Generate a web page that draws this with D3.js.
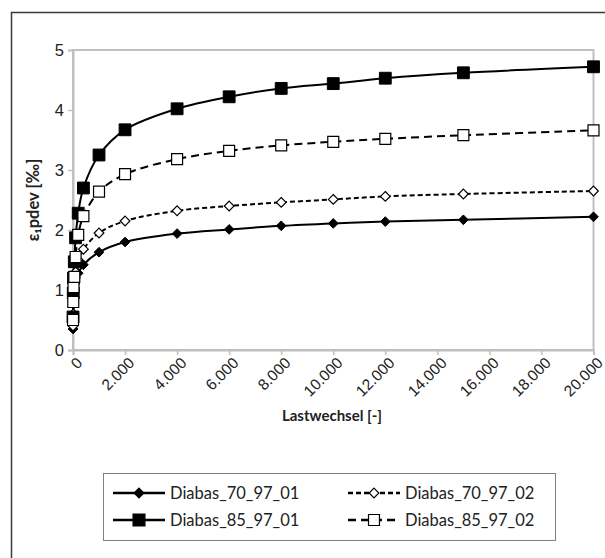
<!DOCTYPE html>
<html>
<head>
<meta charset="utf-8">
<script src="https://cdn.jsdelivr.net/npm/d3@7"></script>
<style>
  body { margin: 0; background: #fff; overflow: hidden; }
  svg { font-family: Lato, "Open Sans", sans-serif; display: block; }
</style>
</head>
<body>
<svg id="chart"></svg>
<script>
// load cycles
const cycles = [1, 10, 20, 50, 100, 200, 400, 1000, 2000, 4000, 6000, 8000, 10000, 12000, 15000, 20000];
const d70_01 = [0.35, 0.5, 0.78, 1.0, 1.2, 1.28, 1.42, 1.63, 1.80, 1.94, 2.01, 2.07, 2.11, 2.14, 2.17, 2.22];
const d70_02 = [0.4, 0.6, 0.85, 1.1, 1.3, 1.5, 1.68, 1.95, 2.15, 2.32, 2.40, 2.46, 2.51, 2.56, 2.60, 2.65];
const d85_01 = [0.55, 0.95, 1.2, 1.47, 1.87, 2.28, 2.7, 3.25, 3.67, 4.02, 4.22, 4.36, 4.44, 4.53, 4.62, 4.72];
const d85_02 = [0.5, 0.8, 1.05, 1.22, 1.55, 1.92, 2.23, 2.64, 2.93, 3.18, 3.32, 3.41, 3.47, 3.52, 3.58, 3.66];
const xTicks = [0, 2000, 4000, 6000, 8000, 10000, 12000, 14000, 16000, 18000, 20000];
const yTicks = [0, 1, 2, 3, 4, 5];

const series = [
  { name: 'Diabas_70_97_01', values: d70_01, symbol: d3.symbolDiamond2, size: 60, fill: '#000', dash: null },
  { name: 'Diabas_70_97_02', values: d70_02, symbol: d3.symbolDiamond2, size: 60, fill: '#fff', dash: '5,3' },
  { name: 'Diabas_85_97_01', values: d85_01, symbol: d3.symbolSquare, size: 140, fill: '#000', dash: null },
  { name: 'Diabas_85_97_02', values: d85_02, symbol: d3.symbolSquare, size: 120, fill: '#fff', dash: '8,5' }
];

const width = 605, height = 558;
const margin = { top: 50, left: 73, right: 11.5, bottom: 208 };
const innerW = width - margin.left - margin.right;
const innerH = height - margin.top - margin.bottom;

const svg = d3.select('#chart').attr('width', width).attr('height', height);

// outer chart border (right/bottom edges fall outside the picture)
svg.append('path')
  .attr('d', `M11.5,${height} V12.5 H${width}`)
  .attr('fill', 'none').attr('stroke', '#3a3a3a').attr('stroke-width', 1.5);

const chart = svg.append('g').attr('transform', `translate(${margin.left}, ${margin.top})`);

const xscale = d3.scaleLinear().domain([0, 20000]).range([0, innerW]);
const yscale = d3.scaleLinear().domain([0, 5]).range([innerH, 0]);

// plot area frame
chart.append('rect')
  .attr('width', innerW).attr('height', innerH)
  .attr('fill', 'none').attr('stroke', '#c0c0c0').attr('stroke-width', 2);

const fmt = d => d === 0 ? '0' : d3.format(',')(d).replace(/,/g, '.');

const xaxis = d3.axisBottom(xscale).tickValues(xTicks).tickSize(5).tickFormat(fmt);
const yaxis = d3.axisLeft(yscale).tickValues(yTicks).tickSize(5).tickFormat(d => d);

const xg = chart.append('g').attr('transform', `translate(0, ${innerH})`).call(xaxis);
xg.select('.domain').attr('stroke', '#c0c0c0').attr('stroke-width', 2);
xg.selectAll('.tick line').attr('stroke', '#c0c0c0').attr('stroke-width', 1.5);
xg.selectAll('.tick text')
  .attr('fill', '#222').attr('font-size', '15.5px')
  .attr('text-anchor', 'end')
  .attr('dy', null)
  .attr('transform', 'translate(7, 11) rotate(-45)')
  .attr('y', 0).attr('x', 0)
  .attr('dominant-baseline', 'middle');

const yg = chart.append('g').call(yaxis);
yg.select('.domain').attr('stroke', '#c0c0c0').attr('stroke-width', 2);
yg.selectAll('.tick line').attr('stroke', '#c0c0c0').attr('stroke-width', 1.5);
yg.selectAll('.tick text').attr('fill', '#222').attr('font-size', '16.5px').attr('x', -9);

// axis titles
svg.append('text')
  .attr('x', 332).attr('y', 421)
  .attr('text-anchor', 'middle').attr('font-size', '15px').attr('font-weight', 'bold')
  .attr('fill', '#222')
  .text('Lastwechsel [-]');

svg.append('text')
  .attr('transform', 'translate(39, 200) rotate(-90)')
  .attr('text-anchor', 'middle').attr('font-size', '16.5px').attr('font-weight', 'bold')
  .attr('fill', '#222')
  .text('ε₁pdev [‰]');

const line = d3.line()
  .x(d => xscale(d.x))
  .y(d => yscale(d.y))
  .curve(d3.curveCatmullRom.alpha(0.5));

series.forEach(s => {
  const pts = cycles.map((c, i) => ({ x: c, y: s.values[i] }));
  chart.append('path')
    .attr('d', line(pts))
    .attr('fill', 'none').attr('stroke', '#000').attr('stroke-width', 2)
    .attr('stroke-dasharray', s.dash);
});

series.forEach(s => {
  const pts = cycles.map((c, i) => ({ x: c, y: s.values[i] }));
  chart.selectAll(null)
    .data(pts)
    .join('path')
    .attr('transform', d => `translate(${xscale(d.x)}, ${yscale(d.y)})`)
    .attr('d', d3.symbol().type(s.symbol).size(s.size))
    .attr('fill', s.fill).attr('stroke', '#000').attr('stroke-width', s.fill === '#fff' ? 1.2 : 1);
});

// legend
const legend = svg.append('g');
legend.append('rect')
  .attr('x', 103.5).attr('y', 473.5).attr('width', 452).attr('height', 67)
  .attr('fill', '#fff').attr('stroke', '#808080').attr('stroke-width', 1);

const lpos = [
  { x: 113, y: 493 }, { x: 348, y: 493 },
  { x: 113, y: 520 }, { x: 348, y: 520 }
];
series.forEach((s, i) => {
  const p = lpos[i];
  const g = legend.append('g').attr('transform', `translate(${p.x}, ${p.y})`);
  g.append('line')
    .attr('x1', 0).attr('x2', 52)
    .attr('stroke', '#000').attr('stroke-width', 2.5)
    .attr('stroke-dasharray', s.dash);
  g.append('path')
    .attr('transform', 'translate(26, 0)')
    .attr('d', d3.symbol().type(s.symbol).size(s.size))
    .attr('fill', s.fill).attr('stroke', '#000').attr('stroke-width', 1.2);
  g.append('text')
    .attr('x', 57).attr('y', 0).attr('dy', '0.35em')
    .attr('font-size', '16.5px').attr('fill', '#222')
    .text(s.name);
});
</script>
</body>
</html>
